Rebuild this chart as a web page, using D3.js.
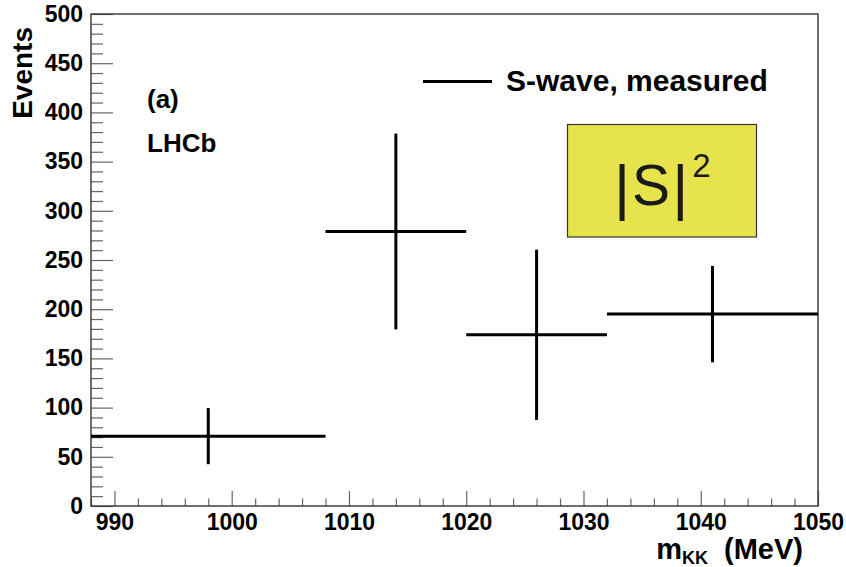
<!DOCTYPE html>
<html>
<head>
<meta charset="utf-8">
<script src="https://cdn.jsdelivr.net/npm/d3@7/dist/d3.min.js"></script>
<style>
  html, body { margin: 0; padding: 0; background: #fff; }
  svg { display: block; }
  text { font-family: "Liberation Sans", Arial, Helvetica, sans-serif; }
</style>
</head>
<body>
<svg id="chart" width="846" height="567"></svg>
<script>
// ---- data ----
const binLow    = [988, 1008, 1020, 1032];
const binHigh   = [1008, 1020, 1032, 1050];
const binCenter = [998, 1014, 1026, 1041];
const events    = [71, 279, 174, 195];
const errors    = [28.5, 99.5, 86.5, 49];

const xMajorTicks = [990, 1000, 1010, 1020, 1030, 1040, 1050];
const yMajorTicks = [0, 50, 100, 150, 200, 250, 300, 350, 400, 450, 500];
const xDomain = [988, 1050];
const yDomain = [0, 500];

const legendLabel = "S-wave, measured";
const yTitle = "Events";

// ---- layout ----
const plot = { left: 91, right: 818, top: 14, bottom: 506 };

const svg = d3.select("#chart");
const x = d3.scaleLinear().domain(xDomain).range([plot.left, plot.right]);
const y = d3.scaleLinear().domain(yDomain).range([plot.bottom, plot.top]);

const xMinor = d3.range(xDomain[0], xDomain[1] + 0.001, 2).filter(v => !xMajorTicks.includes(v));
const yMinor = d3.range(yDomain[0], yDomain[1] + 0.001, 10).filter(v => !yMajorTicks.includes(v));

const tickColor = "#666";
const fontFam = "'Liberation Sans', Arial, sans-serif";

// x axis minor
svg.append("g")
  .attr("transform", `translate(0,${plot.bottom})`)
  .call(d3.axisBottom(x).tickValues(xMinor).tickSize(-7.5).tickFormat(""))
  .call(g => g.select(".domain").remove())
  .call(g => g.selectAll("line").attr("stroke", tickColor).attr("stroke-width", 1.2));
// x axis major
svg.append("g")
  .attr("transform", `translate(0,${plot.bottom})`)
  .call(d3.axisBottom(x).tickValues(xMajorTicks).tickSize(-15).tickPadding(8).tickFormat(d3.format("d")))
  .call(g => g.select(".domain").remove())
  .call(g => g.selectAll("line").attr("stroke", tickColor).attr("stroke-width", 1.2))
  .call(g => g.selectAll("text").attr("font-size", 23).attr("font-weight", "bold").attr("fill", "#000")
      .attr("font-family", fontFam));

// y axis minor
svg.append("g")
  .attr("transform", `translate(${plot.left},0)`)
  .call(d3.axisLeft(y).tickValues(yMinor).tickSize(-12).tickFormat(""))
  .call(g => g.select(".domain").remove())
  .call(g => g.selectAll("line").attr("stroke", tickColor).attr("stroke-width", 1.2));
// y axis major
svg.append("g")
  .attr("transform", `translate(${plot.left},0)`)
  .call(d3.axisLeft(y).tickValues(yMajorTicks).tickSize(-22).tickPadding(8).tickFormat(d3.format("d")))
  .call(g => g.select(".domain").remove())
  .call(g => g.selectAll("line").attr("stroke", tickColor).attr("stroke-width", 1.2))
  .call(g => g.selectAll("text").attr("font-size", 23).attr("font-weight", "bold").attr("fill", "#000")
      .attr("font-family", fontFam));

// frame
svg.append("rect")
  .attr("x", plot.left).attr("y", plot.top)
  .attr("width", plot.right - plot.left).attr("height", plot.bottom - plot.top)
  .attr("fill", "none").attr("stroke", "#333").attr("stroke-width", 1.4);

// data: horizontal bin-width bars and vertical error bars
const pts = binCenter.map((c, i) => ({ c, lo: binLow[i], hi: binHigh[i], v: events[i], e: errors[i] }));
const gData = svg.append("g").attr("stroke", "#000").attr("stroke-width", 3).attr("stroke-linecap", "butt");
gData.selectAll("line.h").data(pts).join("line").attr("class", "h")
  .attr("x1", d => x(d.lo)).attr("x2", d => x(d.hi))
  .attr("y1", d => y(d.v)).attr("y2", d => y(d.v));
gData.selectAll("line.v").data(pts).join("line").attr("class", "v")
  .attr("x1", d => x(d.c)).attr("x2", d => x(d.c))
  .attr("y1", d => y(d.v - d.e)).attr("y2", d => y(d.v + d.e));

// axis titles
svg.append("text")
  .attr("transform", `translate(32,${plot.top + 13}) rotate(-90)`)
  .attr("text-anchor", "end")
  .attr("font-size", 28).attr("font-weight", "bold")
  .text(yTitle);

const xt = svg.append("text")
  .attr("x", 803).attr("y", 559)
  .attr("text-anchor", "end")
  .attr("font-size", 29).attr("font-weight", "bold");
xt.append("tspan").text("m");
xt.append("tspan").attr("font-size", 18).attr("dy", 5).text("KK");
xt.append("tspan").attr("dy", -5).text("\u00a0\u00a0(MeV)");

// labels
svg.append("text").attr("x", 147).attr("y", 108).attr("font-size", 26).attr("font-weight", "bold").text("(a)");
svg.append("text").attr("x", 147).attr("y", 152).attr("font-size", 26).attr("font-weight", "bold").text("LHCb");

// legend
svg.append("line").attr("x1", 423).attr("x2", 492).attr("y1", 81.5).attr("y2", 81.5)
  .attr("stroke", "#000").attr("stroke-width", 3);
svg.append("text").attr("x", 506).attr("y", 91).attr("font-size", 30).attr("font-weight", "bold")
  .text(legendLabel);

// |S|^2 box
const box = { x: 567.5, y: 124.5, w: 189, h: 112.5 };
svg.append("rect").attr("x", box.x).attr("y", box.y).attr("width", box.w).attr("height", box.h)
  .attr("fill", "#e6e34d").attr("stroke", "#333").attr("stroke-width", 1.2);
const st = svg.append("text").attr("x", 614).attr("y", 205).attr("font-size", 57).attr("fill", "#1a1a1a");
st.append("tspan").attr("font-size", 62).attr("dy", 3).text("|");
st.append("tspan").attr("dx", 2).attr("dy", -3).text("S");
st.append("tspan").attr("font-size", 62).attr("dx", 2).attr("dy", 3).text("|");
st.append("tspan").attr("font-size", 33).attr("dx", 4).attr("dy", -31).text("2");
</script>
</body>
</html>
